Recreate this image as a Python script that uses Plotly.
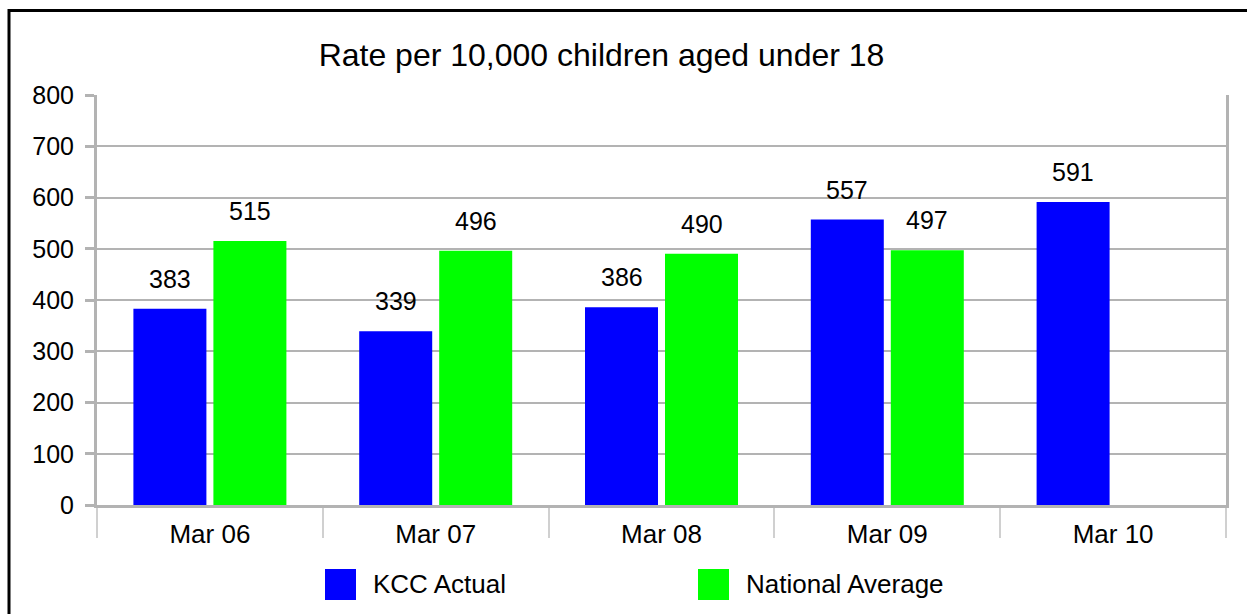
import plotly.graph_objects as go

categories = ["Mar 06", "Mar 07", "Mar 08", "Mar 09", "Mar 10"]
kcc_actual = [383, 339, 386, 557, 591]
national_avg = [515, 496, 490, 497, None]
series_names = ["KCC Actual", "National Average"]
series_colors = ["#0000FF", "#00FF00"]
title_text = "Rate per 10,000 children aged under 18"

W, H = 1247, 614
L, R, T, B = 97, 21, 95, 109
PW, PH = W - L - R, H - T - B
FONT = "Liberation Sans, Arial, sans-serif"
GRAY = "#b3b3b3"
BARGAP = 0.2914

def px(xp):
    return (xp - L) / PW


def py(yp):
    return (H - B - yp) / PH


fig = go.Figure()
for name, vals, col in zip(series_names, [kcc_actual, national_avg], series_colors):
    fig.add_trace(go.Bar(x=categories, y=vals, name=name,
                         marker=dict(color=col, line=dict(width=0)),
                         showlegend=False, hoverinfo="x+y+name"))

# data labels (centred over each bar of the group)
annotations = []
n_series = 2
slot = (1 - BARGAP) / n_series
for si, vals in enumerate([kcc_actual, national_avg]):
    for ci, v in enumerate(vals):
        if v is None:
            continue
        offset = (si - (n_series - 1) / 2) * slot
        annotations.append(dict(x=ci + offset, y=v, xref="x", yref="y",
                                text=str(v), showarrow=False,
                                yanchor="bottom", yshift=14,
                                font=dict(family=FONT, size=25, color="black")))

# legend (manual, big square keys)
shapes = []
legend_x = [325, 698]
for name, col, lx in zip(series_names, series_colors, legend_x):
    shapes.append(dict(type="rect", xref="paper", yref="paper",
                       x0=px(lx), x1=px(lx + 31), y0=py(600), y1=py(569),
                       fillcolor=col, line=dict(width=0)))
    annotations.append(dict(x=px(lx + 46), y=py(584), xref="paper", yref="paper",
                            text=name, showarrow=False, xanchor="left", yanchor="middle",
                            font=dict(family=FONT, size=26, color="black")))

# outer black frame
shapes.append(dict(type="rect", xref="paper", yref="paper",
                   x0=px(9), x1=px(1262), y0=py(640), y1=py(10.5),
                   line=dict(color="black", width=3), fillcolor="rgba(0,0,0,0)",
                   layer="above"))

fig.update_layout(
    width=W, height=H,
    margin=dict(l=L, r=R, t=T, b=B),
    paper_bgcolor="white", plot_bgcolor="white",
    barmode="group", bargap=BARGAP, bargroupgap=0.0875,
    font=dict(family=FONT, size=25, color="black"),
    title=dict(text=title_text, x=601.5 / W, xref="container", xanchor="center",
               y=1 - 55 / H, yref="container", yanchor="middle",
               font=dict(family=FONT, size=32, color="black")),
    annotations=annotations,
    shapes=shapes,
    showlegend=False,
)
fig.update_yaxes(range=[0, 800], dtick=100, showgrid=True, gridcolor=GRAY, gridwidth=2,
                 showline=True, linecolor=GRAY, linewidth=3, mirror=True,
                 ticks="outside", ticklen=9, tickwidth=3, tickcolor=GRAY,
                 ticklabelstandoff=6, zeroline=False,
                 tickfont=dict(family=FONT, size=25, color="black"))
fig.update_xaxes(showline=True, linecolor=GRAY, linewidth=3,
                 ticks="outside", tickson="boundaries", ticklen=30, tickwidth=2,
                 tickcolor="#d0d0d0", ticklabelstandoff=4,
                 tickfont=dict(family=FONT, size=26, color="black"))

fig.write_html("out.html", config={"displayModeBar": False},
               post_script="document.body.style.margin='0';document.body.style.overflow='hidden';")
